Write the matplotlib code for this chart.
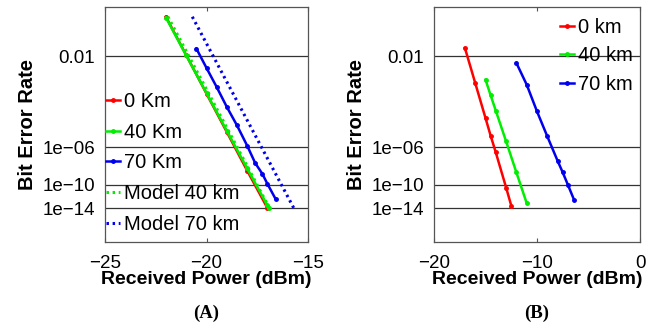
import math
import numpy as np
import matplotlib
matplotlib.use("Agg")
import matplotlib.pyplot as plt

# ---------------- data (BER vs received power, dBm) ----------------
# Panel A
a_power_0km = [-22, -21, -20, -19, -18, -17]
a_ber_0km = [4.4e-2, 1.06e-2, 9.1e-4, 1.26e-5, 6.0e-9, 1.0e-14]
a_power_40km = [-22, -21, -20, -19, -18, -17, -16.9]
a_ber_40km = [4.3e-2, 1.04e-2, 9.5e-4, 1.5e-5, 1.06e-8, 3.4e-14, 1.0e-14]
a_power_70km = [-20.5, -20, -19.5, -19, -18.5, -18, -17.6, -17.25, -17, -16.6]
a_ber_70km = [1.43e-2, 5.4e-3, 1.54e-3, 2.7e-4, 3.2e-5, 1.4e-6, 3.8e-8, 2.5e-9, 1.26e-10, 5.5e-13]
a_power_model40 = [-21.9, -16.9]
a_ber_model40 = [4.4e-2, 1.0e-14]
a_power_model70 = [-20.7, -15.7]
a_ber_model70 = [4.4e-2, 1.0e-14]

# Panel B
b_power_0km = [-17, -16, -15, -14.5, -14, -13, -12.5]
b_ber_0km = [1.47e-2, 2.07e-3, 8.0e-5, 7.2e-6, 3.8e-7, 3.7e-11, 3.1e-14]
b_power_40km = [-15, -14.5, -14, -13, -12, -11]
b_ber_40km = [2.6e-3, 7.9e-4, 1.82e-4, 2.9e-6, 3.6e-9, 9.0e-14]
b_power_70km = [-12, -11, -10, -9, -8, -7.5, -7, -6.4]
b_ber_70km = [7.1e-3, 1.83e-3, 1.69e-4, 6.5e-6, 6.4e-8, 3.6e-9, 9.1e-11, 3.6e-13]

y_ticks = [1e-14, 1e-10, 1e-6, 1e-2]
y_ticklabels = ["1e\u221214", "1e\u221210", "1e\u221206", "0.01"]
a_xticks = [-25, -20, -15]
b_xticks = [-20, -10, 0]

# ---------------- Q-factor (log) scale for BER ----------------
_erfc = np.vectorize(math.erfc, otypes=[float])


def ber_to_q(ber):
    ber = np.clip(np.asarray(ber, dtype=float), 1e-300, 0.4999)
    lo = np.zeros_like(ber)
    hi = np.full_like(ber, 40.0)
    for _ in range(70):
        mid = 0.5 * (lo + hi)
        f = 0.5 * _erfc(mid / math.sqrt(2))
        above = f > ber
        lo = np.where(above, mid, lo)
        hi = np.where(above, hi, mid)
    return 0.5 * (lo + hi)


def forward(ber):
    return -np.log10(ber_to_q(ber))


def inverse(y):
    y = np.asarray(y, dtype=float)
    return 0.5 * _erfc(10.0 ** (-y) / math.sqrt(2))


plt.rcParams['font.family'] = ['Liberation Sans', 'DejaVu Sans']

fig = plt.figure(figsize=(6.53, 3.23), dpi=100)
axA = fig.add_axes([105 / 653, 81 / 323, 203 / 653, 235 / 323])
axB = fig.add_axes([434 / 653, 81 / 323, 206 / 653, 235 / 323])

RED = '#ff0000'
GREEN = '#00ee00'
BLUE = '#0000ee'
lw = 1.8
ms = 5

axA.plot(a_power_0km, a_ber_0km, color=RED, lw=lw, marker='.', ms=ms, label='0 Km')
axA.plot(a_power_40km, a_ber_40km, color=GREEN, lw=lw, marker='.', ms=ms, label='40 Km')
axA.plot(a_power_70km, a_ber_70km, color=BLUE, lw=lw, marker='.', ms=ms, label='70 Km')
axA.plot(a_power_model40, a_ber_model40, color=GREEN, lw=2.2, ls=(0, (0.8, 1.2)), label='Model 40 km')
axA.plot(a_power_model70, a_ber_model70, color=BLUE, lw=2.2, ls=(0, (0.8, 1.2)), label='Model 70 km')

axB.plot(b_power_0km, b_ber_0km, color=RED, lw=lw, marker='.', ms=ms, label='0 km')
axB.plot(b_power_40km, b_ber_40km, color=GREEN, lw=lw, marker='.', ms=ms, label='40 km')
axB.plot(b_power_70km, b_ber_70km, color=BLUE, lw=lw, marker='.', ms=ms, label='70 km')

for ax, xt in ((axA, a_xticks), (axB, b_xticks)):
    ax.set_yscale('function', functions=(forward, inverse))
    ax.set_ylim(9e-24, 0.057)
    ax.set_xlim(xt[0], xt[-1])
    ax.set_xticks(xt)
    ax.set_xticklabels([str(v).replace('-', '\u2212') for v in xt])
    ax.set_yticks(y_ticks)
    ax.set_yticklabels(y_ticklabels)
    ax.yaxis.set_minor_locator(matplotlib.ticker.NullLocator())
    ax.xaxis.set_minor_locator(matplotlib.ticker.NullLocator())
    ax.yaxis.grid(True, color='#333333', lw=0.9)
    ax.set_axisbelow(True)
    ax.tick_params(axis='x', direction='in', top=True, length=3, width=0.8,
                   labelsize=13.5, pad=9, color='#555555')
    ax.tick_params(axis='y', length=0, labelsize=13.5, pad=7)
    for s in ax.spines.values():
        s.set_color('#555555')
        s.set_linewidth(0.9)
    ax.set_xlabel('Received Power (dBm)', fontsize=14, fontweight='bold', labelpad=0)
    ax.set_ylabel('Bit Error Rate', fontsize=14.5, fontweight='bold', labelpad=4)

axA.legend(loc='upper left', bbox_to_anchor=(0.005, 0.638), frameon=False,
           handlelength=0.7, handletextpad=0.2, labelspacing=0.58,
           borderpad=0, borderaxespad=0, fontsize=14.5)
axB.legend(loc='upper right', bbox_to_anchor=(0.965, 0.954), frameon=False,
           handlelength=0.7, handletextpad=0.2, labelspacing=0.48,
           borderpad=0, borderaxespad=0, fontsize=14.5)

fig.text(206.5 / 653, 1 - 313 / 323, '(A)', ha='center', va='center', fontsize=13.5,
         fontweight='bold', family=['Liberation Serif', 'DejaVu Serif'])
fig.text(537 / 653, 1 - 313 / 323, '(B)', ha='center', va='center', fontsize=13.5,
         fontweight='bold', family=['Liberation Serif', 'DejaVu Serif'])

fig.savefig('out.png', dpi=100)
